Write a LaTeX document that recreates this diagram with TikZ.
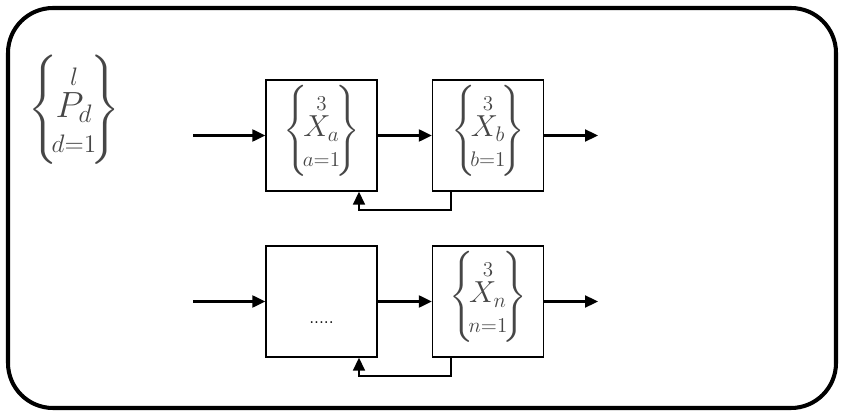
\documentclass[tikz,border=0pt]{standalone}
\usepackage{amsmath}
\usepackage{tikz}
\usetikzlibrary{arrows.meta, positioning, calc}

\definecolor{setgray}{RGB}{70, 70, 70}
\newcommand{\idxset}[3]{\left\{\!\begin{matrix}{\scriptstyle #1}\\[-7pt] #2_{#3}\\[-5pt] {\scriptstyle #3=1}\end{matrix}\!\right\}}

\begin{document}
\begin{tikzpicture}[
  x=0.02cm, y=-0.02cm,
  blk/.style={draw, line width=0.8pt, minimum width=2.22cm, minimum height=2.22cm, inner sep=0pt},
  lbl/.style={text=setgray, font=\LARGE, inner sep=0pt},
  flow/.style={line width=1.3pt, -{Triangle[length=0.26cm, width=0.24cm]}},
  back/.style={line width=1pt, -{Triangle[length=0.26cm, width=0.24cm]}}
]
  \useasboundingbox (0,0) rectangle (842,415);
  \draw[line width=2.3pt, rounded corners=0.9cm] (8,8) rectangle (836,408);

  \node[lbl, font=\huge] (pset) at (74,110) {$\idxset{l}{P}{d}$};

  % upper chain
  \node[blk] (boxA) at (321.5,135.5) {};
  \node[blk] (boxB) at (488,135.5) {};
  \node[lbl] (setA) at (321.5,131) {$\idxset{3}{X}{a}$};
  \node[lbl] (setB) at (488,131) {$\idxset{3}{X}{b}$};
  \coordinate (inA) at (193,135.5);
  \coordinate (outB) at (598,135.5);
  \draw[flow] (inA) -- (boxA);
  \draw[flow] (boxA) -- (boxB);
  \draw[flow] (boxB) -- (outB);
  \draw[back] ([xshift=-0.74cm]boxB.south) -- ++(0,-0.36cm) -| ([xshift=0.75cm]boxA.south);

  % lower chain
  \node[blk] (boxC) at (321.5,301.5) {};
  \node[blk] (boxN) at (488,301.5) {};
  \node (dots) at (321.5,323) {.....};
  \node[lbl] (setN) at (488,297) {$\idxset{3}{X}{n}$};
  \coordinate (inC) at (193,301.5);
  \coordinate (outN) at (598,301.5);
  \draw[flow] (inC) -- (boxC);
  \draw[flow] (boxC) -- (boxN);
  \draw[flow] (boxN) -- (outN);
  \draw[back] ([xshift=-0.74cm]boxN.south) -- ++(0,-0.36cm) -| ([xshift=0.75cm]boxC.south);
\end{tikzpicture}
\end{document}
